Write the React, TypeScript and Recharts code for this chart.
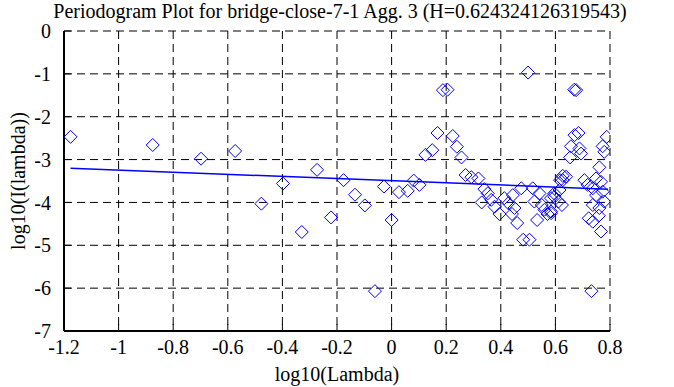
import { ScatterChart, Scatter, XAxis, YAxis, CartesianGrid } from 'recharts';

const FONT = '"Liberation Serif", "DejaVu Serif", serif';

const xTicks = [-1.2, -1, -0.8, -0.6, -0.4, -0.2, 0, 0.2, 0.4, 0.6, 0.8];
const yTicks = [0, -1, -2, -3, -4, -5, -6, -7];

// periodogram points: log10(lambda), log10(I(lambda))
const lowFreqPoints = [
  { x: -1.176, y: -2.47 }, { x: -0.875, y: -2.66 }, { x: -0.698, y: -2.98 },
  { x: -0.573, y: -2.8 }, { x: -0.477, y: -4.03 }, { x: -0.398, y: -3.56 },
  { x: -0.329, y: -4.69 }, { x: -0.273, y: -3.24 }, { x: -0.222, y: -4.35 },
  { x: -0.176, y: -3.48 }, { x: -0.134, y: -3.82 }, { x: -0.098, y: -4.07 },
  { x: -0.061, y: -6.07 }, { x: -0.028, y: -3.63 }, { x: 0.0, y: -4.41 },
  { x: 0.027, y: -3.76 }, { x: 0.059, y: -3.73 }, { x: 0.081, y: -3.49 },
  { x: 0.102, y: -3.59 }, { x: 0.124, y: -2.89 }, { x: 0.149, y: -2.78 },
  { x: 0.168, y: -2.38 }, { x: 0.188, y: -1.38 }, { x: 0.205, y: -1.37 },
  { x: 0.224, y: -2.45 }, { x: 0.239, y: -2.7 }, { x: 0.256, y: -2.95 },
];

const midFreqPoints = [
  { x: 0.271, y: -3.36 }, { x: 0.292, y: -3.41 }, { x: 0.318, y: -3.44 },
  { x: 0.34, y: -3.69 }, { x: 0.352, y: -3.79 }, { x: 0.33, y: -4.0 },
  { x: 0.365, y: -3.94 }, { x: 0.377, y: -4.1 }, { x: 0.395, y: -4.27 },
  { x: 0.413, y: -3.9 }, { x: 0.428, y: -4.02 }, { x: 0.444, y: -3.83 },
  { x: 0.45, y: -4.13 }, { x: 0.46, y: -4.48 }, { x: 0.441, y: -4.27 },
  { x: 0.475, y: -3.67 }, { x: 0.482, y: -4.87 }, { x: 0.5, y: -0.97 },
  { x: 0.505, y: -4.87 }, { x: 0.517, y: -3.67 }, { x: 0.523, y: -3.98 },
  { x: 0.542, y: -3.79 }, { x: 0.55, y: -4.06 }, { x: 0.533, y: -4.41 },
  { x: 0.56, y: -4.17 }, { x: 0.571, y: -4.27 }, { x: 0.584, y: -4.25 },
  { x: 0.596, y: -3.87 }, { x: 0.611, y: -3.98 }, { x: 0.584, y: -4.21 },
];

const highFreqPoints = [
  { x: 0.627, y: -3.48 }, { x: 0.67, y: -2.43 }, { x: 0.685, y: -2.38 },
  { x: 0.657, y: -2.69 }, { x: 0.688, y: -2.74 }, { x: 0.694, y: -2.86 },
  { x: 0.654, y: -2.95 }, { x: 0.669, y: -1.37 }, { x: 0.676, y: -1.38 },
  { x: 0.788, y: -2.47 }, { x: 0.773, y: -2.69 }, { x: 0.779, y: -2.82 },
  { x: 0.761, y: -3.18 }, { x: 0.627, y: -3.38 }, { x: 0.639, y: -3.4 },
  { x: 0.617, y: -3.48 }, { x: 0.706, y: -3.48 }, { x: 0.749, y: -3.44 },
  { x: 0.767, y: -3.52 }, { x: 0.718, y: -3.59 }, { x: 0.737, y: -3.67 },
  { x: 0.615, y: -3.71 }, { x: 0.596, y: -3.79 }, { x: 0.584, y: -3.9 },
  { x: 0.624, y: -4.06 }, { x: 0.749, y: -3.83 }, { x: 0.773, y: -3.75 },
  { x: 0.779, y: -3.98 }, { x: 0.737, y: -4.06 }, { x: 0.761, y: -4.13 },
  { x: 0.722, y: -4.37 }, { x: 0.759, y: -4.31 }, { x: 0.737, y: -4.45 },
  { x: 0.767, y: -4.68 }, { x: 0.732, y: -6.07 },
];

// least squares fit, slope -0.2486 -> H = 0.6243
const fitLine = [
  { x: -1.176, y: -3.2 },
  { x: 0.793, y: -3.69 },
];

const points = [...lowFreqPoints, ...midFreqPoints, ...highFreqPoints];

function Diamond(props: any) {
  const { cx, cy } = props;
  if (cx == null || cy == null) return <g />;
  const r = 6.5;
  return (
    <path
      d={`M${cx},${cy - r}L${cx + r},${cy}L${cx},${cy + r}L${cx - r},${cy}Z`}
      fill="none"
      stroke="#0000ff"
      strokeWidth={1}
    />
  );
}

const fmt = (v: number) => String(v);

function XTick(props: any) {
  const { x, y, payload } = props;
  return (
    <text x={x} y={y} dy="0.71em" textAnchor="middle" fill="#000" fontSize={20} fontFamily={FONT}>
      {fmt(payload.value)}
    </text>
  );
}

function YTick(props: any) {
  const { x, y, payload } = props;
  return (
    <text x={x} y={y} dy="0.355em" textAnchor="end" fill="#000" fontSize={20} fontFamily={FONT}>
      {fmt(payload.value)}
    </text>
  );
}

const textStyle = { position: 'absolute' as const, textAlign: 'center' as const, fontFamily: FONT, fontSize: 20, lineHeight: '22px' };

export default function App() {
  return (
    <div style={{ position: 'absolute', left: 0, top: 0, width: 674, height: 387, background: '#fff', fontFamily: FONT }}>
      <div style={{ ...textStyle, left: 0, width: 680, top: 0 }}>
        Periodogram Plot for bridge-close-7-1 Agg. 3 (H=0.624324126319543)
      </div>
      <ScatterChart width={674} height={387} margin={{ top: 31, right: 64, bottom: 26, left: 0 }}>
        <CartesianGrid stroke="#000" strokeDasharray="8 5" />
        <XAxis
          type="number"
          dataKey="x"
          domain={[-1.2, 0.8]}
          ticks={xTicks}
          height={30}
          tickSize={-7}
          tickMargin={16}
          axisLine={{ stroke: '#000', strokeWidth: 2 }}
          tickLine={{ stroke: '#000' }}
          tick={XTick}
          allowDataOverflow
        />
        <XAxis
          xAxisId="top"
          orientation="top"
          type="number"
          dataKey="x"
          domain={[-1.2, 0.8]}
          ticks={xTicks}
          height={0}
          tickSize={-7}
          tick={false}
          axisLine={{ stroke: '#000', strokeWidth: 2 }}
          tickLine={{ stroke: '#000' }}
          allowDataOverflow
        />
        <YAxis
          type="number"
          dataKey="y"
          domain={[-7, 0]}
          ticks={yTicks}
          width={64}
          tickSize={-7}
          tickMargin={20}
          axisLine={{ stroke: '#000', strokeWidth: 2 }}
          tickLine={{ stroke: '#000' }}
          tick={YTick}
          allowDataOverflow
        />
        <YAxis
          yAxisId="right"
          orientation="right"
          type="number"
          dataKey="y"
          domain={[-7, 0]}
          ticks={yTicks}
          width={0}
          tickSize={-7}
          tick={false}
          axisLine={{ stroke: '#000', strokeWidth: 2 }}
          tickLine={{ stroke: '#000' }}
          allowDataOverflow
        />
        <Scatter data={points} shape={Diamond} isAnimationActive={false} />
        <Scatter
          data={fitLine}
          line={{ stroke: '#0000ff', strokeWidth: 1.5 }}
          shape={() => <g />}
          isAnimationActive={false}
        />
      </ScatterChart>
      <div style={{ ...textStyle, left: 237, width: 200, top: 363 }}>
        log10(Lambda)
      </div>
      <div style={{ ...textStyle, left: 18 - 100, width: 200, top: 181 - 11, transform: 'rotate(-90deg)' }}>
        log10(I(lambda))
      </div>
    </div>
  );
}
